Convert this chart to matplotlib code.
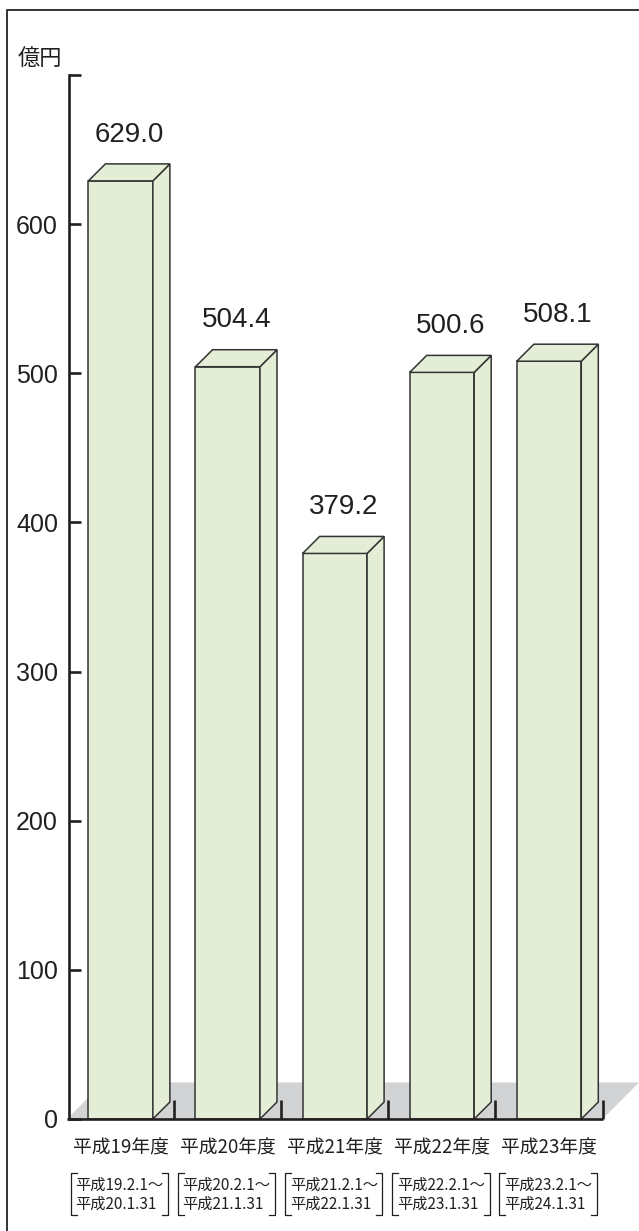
import matplotlib.pyplot as plt
from matplotlib.lines import Line2D
from matplotlib.patches import Polygon

years = ["平成19年度", "平成20年度", "平成21年度", "平成22年度", "平成23年度"]
periods = [
    "平成19.2.1～\n平成20.1.31",
    "平成20.2.1～\n平成21.1.31",
    "平成21.2.1～\n平成22.1.31",
    "平成22.2.1～\n平成23.1.31",
    "平成23.2.1～\n平成24.1.31",
]
values = [629.0, 504.4, 379.2, 500.6, 508.1]
y_ticks = [0, 100, 200, 300, 400, 500, 600, 700]
y_tick_labels = ["0", "100", "200", "300", "400", "500", "600", ""]
unit = "億円"

INK = "#231f20"
EDGE = "#333333"
FACE = "#e4eed6"
FLOOR = "#d2d3d5"
CJK = ["Noto Sans CJK JP", "DejaVu Sans"]

plt.rcParams["font.family"] = ["Liberation Sans", "Noto Sans CJK JP"]

W, H = 639, 1231
fig = plt.figure(figsize=(W / 100, H / 100), dpi=100)
ax = fig.add_axes([69 / W, (H - 1119) / H, 570 / W, 1044 / H])
ax.set_ylim(0, 700)
ax.set_xlim(-0.482, 4.84)

# bar geometry (in data units)
bar_w = 0.602
dx, dy = 0.159, 11.4
floor_dx, floor_dy = 0.34, 24.5

# grey floor behind the bars
ax.add_patch(Polygon([(-0.5, 0), (4.5, 0), (4.5 + floor_dx, floor_dy),
                      (-0.5 + floor_dx, floor_dy)],
                     closed=True, facecolor=FLOOR, edgecolor="none",
                     zorder=1, clip_on=False))

for i, v in enumerate(values):
    x0, x1 = i - bar_w / 2, i + bar_w / 2
    faces = [
        [(x0, 0), (x1, 0), (x1, v), (x0, v)],
        [(x1, 0), (x1 + dx, dy), (x1 + dx, v + dy), (x1, v)],
        [(x0, v), (x1, v), (x1 + dx, v + dy), (x0 + dx, v + dy)],
    ]
    for pts in faces:
        ax.add_patch(Polygon(pts, closed=True, facecolor=FACE, edgecolor=EDGE,
                             linewidth=1.1, joinstyle="miter", zorder=3,
                             clip_on=False))
    ax.text(i + dx / 2, v + 31, f"{v:.1f}", ha="center", va="center",
            fontsize=20, color=INK, zorder=4)

# baseline and category separators
ax.plot([-0.5, 4.5], [0, 0], color=INK, lw=1.9, solid_capstyle="butt",
        zorder=5, clip_on=False)
for i in range(len(values)):
    ax.plot([i + 0.5, i + 0.5], [0, 12.5], color=INK, lw=1.9,
            solid_capstyle="butt", zorder=5, clip_on=False)

# category labels and periods in brackets
hook = 0.056
for i, (yr, per) in enumerate(zip(years, periods)):
    ax.text(i, -19.5, yr, ha="center", va="center", fontsize=13.5,
            color=INK, family=CJK, clip_on=False)
    ax.text(i - 0.01, -50.5, per, ha="center", va="center", fontsize=11,
            color=INK, family=CJK, linespacing=1.15, multialignment="left",
            clip_on=False)
    top, bot = -36.2, -64.4
    lx, rx = i - 0.465, i + 0.445
    ax.plot([lx + hook, lx, lx, lx + hook], [top, top, bot, bot],
            color=INK, lw=0.9, clip_on=False)
    ax.plot([rx - hook, rx, rx, rx - hook], [top, top, bot, bot],
            color=INK, lw=0.9, clip_on=False)

for side in ["top", "right", "bottom"]:
    ax.spines[side].set_visible(False)
ax.spines["left"].set_linewidth(1.9)
ax.spines["left"].set_color(INK)
ax.set_yticks(y_ticks)
ax.set_yticklabels(y_tick_labels)
ax.tick_params(axis="y", direction="in", length=8.5, width=1.9, color=INK,
               labelsize=18, labelcolor=INK, pad=8)
ax.set_xticks([])

fig.text(40 / W, 1 - 58 / H, unit, ha="center", va="center", fontsize=16,
         color=INK, family=CJK)

# frame (left and top edges only, the picture is cropped)
fig.add_artist(Line2D([7 / W, 7 / W, 1], [0, 1 - 10 / H, 1 - 10 / H],
                      transform=fig.transFigure, color="#333333", lw=1.4))

fig.savefig("out.png", dpi=100)
